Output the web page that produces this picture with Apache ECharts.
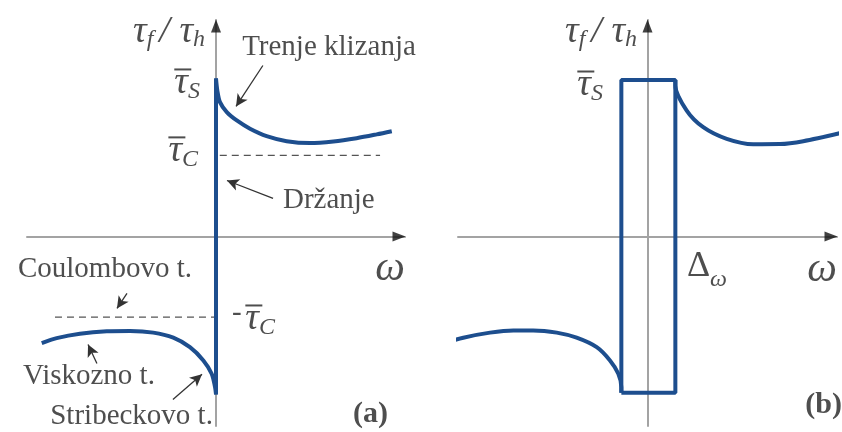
<!DOCTYPE html>
<html>

<head>
    <meta charset="utf-8" />
    <script src="https://cdn.jsdelivr.net/npm/echarts@6/dist/echarts.min.js"></script>
    <style>
        body { margin: 0; }
    </style>
</head>
<div id="main" style="width: 842px;height:432px;"></div>

<script>
    var chartDom = document.getElementById('main');
    var myChart = echarts.init(chartDom);
    var option;

    // (a) friction curve (x = omega, y = tau_f / tau_h)
    const leftA = [[-0.922, -0.675], [-0.843, -0.644], [-0.72, -0.616], [-0.578, -0.601], [-0.455, -0.599],
        [-0.332, -0.609], [-0.226, -0.641], [-0.138, -0.701], [-0.067, -0.785], [-0.023, -0.869],
        [-0.005, -0.954], [0, -1.0]];
    const stickA = [[0, -1.0], [0, 1.0]];
    const rightA = [[0, 1.0], [0.007, 0.924], [0.021, 0.85], [0.057, 0.787], [0.11, 0.734], [0.18, 0.682],
        [0.268, 0.635], [0.374, 0.603], [0.497, 0.591], [0.621, 0.601], [0.744, 0.622], [0.85, 0.646],
        [0.93, 0.666]];
    const coulombPos = [[0.02, 0.513], [0.868, 0.513]];
    const coulombNeg = [[-0.852, -0.511], [0, -0.511]];

    // (b) with the dead band Delta_omega
    const leftB = [[-1.069, -0.675], [-0.972, -0.641], [-0.831, -0.609], [-0.708, -0.595], [-0.603, -0.595],
        [-0.479, -0.609], [-0.374, -0.641], [-0.268, -0.701], [-0.198, -0.785], [-0.154, -0.869],
        [-0.138, -0.954], [-0.138, -0.99]];
    const boxB = [[-0.138, -0.99], [-0.138, 0.99], [0.147, 0.99], [0.147, -0.99], [-0.138, -0.99]];
    const rightB = [[0.147, 0.99], [0.147, 0.956], [0.207, 0.797], [0.294, 0.692], [0.418, 0.618],
        [0.558, 0.584], [0.699, 0.585], [0.822, 0.603], [1.016, 0.654]];

    // annotation texts and the arrows pointing from them
    const textsA = [
        ['{t|τ}{s|f }{t|/ }{t|τ}{s|h}', [-0.058, 1.297], 'left'],
        ['{bar| }\n{t|τ}{s|S}', [-0.085, 0.981], 'left'],
        ['{bar| }\n{t|τ}{s|C}', [-0.095, 0.551], 'left'],
        ['{g|Trenje klizanja}', [0.138, 1.196], 'right'],
        ['{g|Držanje}', [0.354, 0.228], 'right'],
        ['{w|ω}', [1.0, -0.209], 'left'],
        ['{g|Coulombovo t.}', [-0.127, -0.209], 'left'],
        ['{g|-}', [0.085, -0.487], 'right'],
        ['{bar| }\n{t|τ}{s|C}', [0.155, -0.513], 'right'],
        ['{g|Viskozno t.}', [-0.323, -0.886], 'left'],
        ['{g|Stribeckovo t.}', [-0.016, -1.139], 'left'],
        ['{b|(a)}', [0.91, -1.127], 'left']
    ];
    const textsB = [
        ['{t|τ}{s|f }{t|/ }{t|τ}{s|h}', [-0.055, 1.297], 'left'],
        ['{bar| }\n{t|τ}{s|S}', [-0.235, 0.968], 'left'],
        ['{d|Δ}{s|ω}', [0.208, -0.19], 'right'],
        ['{w|ω}', [1.0, -0.215], 'left'],
        ['{b|(b)}', [1.026, -1.07], 'left']
    ];
    const arrowsA = [
        [[0.248, 1.082], [0.106, 0.823]],
        [[0.302, 0.241], [0.058, 0.354]],
        [[-0.471, -0.361], [-0.524, -0.456]],
        [[-0.63, -0.804], [-0.677, -0.684]],
        [[-0.228, -1.032], [-0.074, -0.873]]
    ];

    const blue = '#1d4e8e';
    const serif = 'Liberation Serif';
    const rich = {
        t: { fontFamily: serif, fontStyle: 'italic', fontSize: 38, lineHeight: 24, color: '#222' },
        s: { fontFamily: serif, fontStyle: 'italic', fontSize: 24, height: 8, lineHeight: 2, verticalAlign: 'bottom', color: '#222' },
        bar: { width: 17, height: 2, lineHeight: 4, backgroundColor: '#222', align: 'left', fontSize: 2 },
        g: { fontFamily: serif, fontSize: 29, lineHeight: 32, color: '#222' },
        w: { fontFamily: serif, fontStyle: 'italic', fontSize: 42, lineHeight: 40, color: '#222' },
        d: { fontFamily: serif, fontSize: 36, lineHeight: 34, color: '#222' },
        b: { fontFamily: serif, fontWeight: 'bold', fontSize: 30, lineHeight: 30, color: '#222' }
    };

    function axisPair(i) {
        return {
            x: {
                type: 'value', gridIndex: i, min: -1, max: 1,
                axisLine: { onZero: true, lineStyle: { color: '#a3a3a3', width: 2 } },
                axisTick: { show: false }, axisLabel: { show: false }, splitLine: { show: false }
            },
            y: {
                type: 'value', gridIndex: i, min: -1.2, max: 1.37,
                axisLine: { onZero: true, lineStyle: { color: '#a3a3a3', width: 2 } },
                axisTick: { show: false }, axisLabel: { show: false }, splitLine: { show: false }
            }
        };
    }

    function curve(data, i) {
        return {
            type: 'line', xAxisIndex: i, yAxisIndex: i, data: data, smooth: 0.3,
            showSymbol: false, clip: false, silent: true,
            lineStyle: { color: blue, width: 4 }
        };
    }

    function straight(data, i) {
        var s = curve(data, i);
        s.smooth = false;
        return s;
    }

    function dashed(data, i) {
        return {
            type: 'line', xAxisIndex: i, yAxisIndex: i, data: data, showSymbol: false, silent: true,
            lineStyle: { color: '#555', width: 1.3, type: [7, 5] }
        };
    }

    function texts(list, i) {
        return {
            type: 'scatter', xAxisIndex: i, yAxisIndex: i, symbolSize: 0.1, clip: false, silent: true,
            itemStyle: { color: 'transparent' },
            label: { show: true, distance: 0, rich: rich },
            data: list.map(function(item) {
                return { value: item[1], label: { formatter: item[0], position: item[2] } };
            })
        };
    }

    function arrowHeads(i) {
        return {
            type: 'scatter', xAxisIndex: i, yAxisIndex: i, clip: false, silent: true,
            symbol: 'triangle', symbolSize: [10, 13],
            itemStyle: { color: '#111' },
            data: [
                { value: [1, 0], symbolRotate: -90, symbolOffset: [-6, 0] },
                { value: [0, 1.37], symbolRotate: 0, symbolOffset: [0, 6] }
            ]
        };
    }

    var axA = axisPair(0), axB = axisPair(1);

    var stick = straight(stickA, 0);
    stick.markLine = {
        silent: true,
        symbol: ['none', 'arrow'],
        symbolSize: [9, 12],
        label: { show: false },
        lineStyle: { color: '#333', width: 1.3, type: 'solid' },
        data: arrowsA.map(function(a) {
            return [{ coord: a[0] }, { coord: a[1] }];
        })
    };

    option = {
        animation: false,
        backgroundColor: '#fff',
        grid: [
            { left: 27, top: 20, width: 378, height: 406 },
            { left: 458, top: 20, width: 379, height: 406 }
        ],
        xAxis: [axA.x, axB.x],
        yAxis: [axA.y, axB.y],
        series: [
            dashed(coulombPos, 0),
            dashed(coulombNeg, 0),
            curve(leftA, 0),
            stick,
            curve(rightA, 0),
            texts(textsA, 0),
            arrowHeads(0),
            curve(leftB, 1),
            straight(boxB, 1),
            curve(rightB, 1),
            texts(textsB, 1),
            arrowHeads(1)
        ]
    };

    option && myChart.setOption(option);
</script>

</html>
